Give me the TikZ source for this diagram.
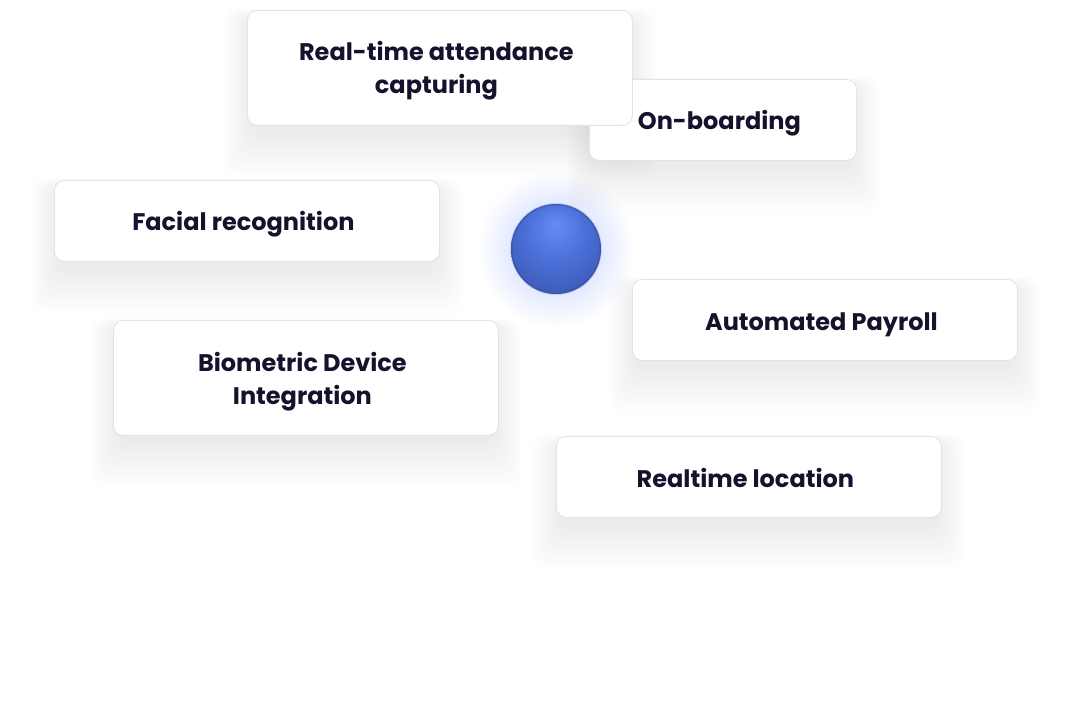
\documentclass[tikz,border=0pt]{standalone}
\usepackage{fontspec}
\setmainfont{Poppins}
\usetikzlibrary{calc,fadings}

\definecolor{ink}{RGB}{20,18,45}
\definecolor{cardline}{RGB}{226,226,232}
\definecolor{glowblue}{RGB}{130,160,255}
\definecolor{orbA}{RGB}{102,140,242}
\definecolor{orbB}{RGB}{76,112,216}
\definecolor{orbC}{RGB}{54,82,172}
\definecolor{orbD}{RGB}{48,66,136}

\pgfdeclarelayer{shadowlayer}
\pgfsetlayers{shadowlayer,main}

\tikzfading[name=glowfade, inner color=transparent!0, outer color=transparent!100]
\pgfdeclareradialshading{orb}{\pgfpoint{0bp}{14bp}}{%
  color(0bp)=(orbA); color(16bp)=(orbB); color(38bp)=(orbC); color(50bp)=(orbD)}

\tikzset{
  card/.style={draw=cardline, fill=white, rounded corners=10pt, line width=0.8pt,
    inner sep=0pt, anchor=north west},
  cardtext/.style={text=ink, inner sep=0pt, anchor=base,
    font=\bfseries\fontsize{24}{33}\selectfont},
  wide/.style={minimum width=385pt},
  short/.style={minimum height=81pt},
  tall/.style={minimum height=115pt},
}

% soft drop shadow under a card, painted on the shadow layer
\newcommand{\softshadow}[1]{%
  \begin{pgfonlayer}{shadowlayer}
    \foreach \i in {1,...,20}{
      \fill[black, opacity=0.0036, rounded corners=14pt]
        ($(#1.north west)+(-1.5*\i+6, 10+0.9*\i-1.5*\i)$)
        rectangle ($(#1.south east)+(1.5*\i-6, 4+0.9*\i+1.5*\i)$);
    }
    \foreach \i in {1,...,10}{
      \fill[black, opacity=0.0019, rounded corners=24pt]
        ($(#1.north west)+(-5*\i+24, 40+6*\i-5*\i)$)
        rectangle ($(#1.south east)+(5*\i-24, 30+6*\i+5*\i)$);
    }
  \end{pgfonlayer}}

\begin{document}
\begin{tikzpicture}[x=1pt, y=-1pt]
  \begin{pgfonlayer}{shadowlayer}
    \fill[white] (0,0) rectangle (1072,706);
  \end{pgfonlayer}
  \useasboundingbox (0,0) rectangle (1072,706);

  % glowing orb in the middle
  \coordinate (orbc) at (556,249);
  \fill[glowblue, opacity=0.5, path fading=glowfade] (orbc) circle (78pt);
  \shade[shading=orb] (orbc) circle (45pt);
  \foreach \w/\o in {3/0.1, 1.8/0.15, 0.8/0.22}
    \draw[orbD, opacity=\o, line width=\w pt] (orbc) circle (44.6pt);

  % feature cards; text baselines sit 51pt below each card's top edge
  \node[card, minimum width=267pt, short] (onboard) at (589,79) {};
  \node[cardtext] (onboardtxt) at ($(onboard.north)+(-3.5,51)$) {On-boarding};
  \softshadow{onboard}

  \node[card, wide, tall] (attend) at (247,10) {};
  \node[cardtext] (attendtxta) at ($(attend.north)+(-3.5,51)$) {Real-time attendance};
  \node[cardtext] (attendtxtb) at ($(attend.north)+(-3.5,84)$) {capturing};
  \softshadow{attend}

  \node[card, wide, short] (facial) at (54,180) {};
  \node[cardtext] (facialtxt) at ($(facial.north)+(-3.5,51)$) {Facial recognition};
  \softshadow{facial}

  \node[card, wide, tall] (biometric) at (113,320) {};
  \node[cardtext] (biometrictxta) at ($(biometric.north)+(-3.5,51)$) {Biometric Device};
  \node[cardtext] (biometrictxtb) at ($(biometric.north)+(-3.5,84)$) {Integration};
  \softshadow{biometric}

  \node[card, wide, short] (payroll) at (632,279) {};
  \node[cardtext] (payrolltxt) at ($(payroll.north)+(-3.5,51)$) {Automated Payroll};
  \softshadow{payroll}

  \node[card, wide, short] (location) at (556,436) {};
  \node[cardtext] (locationtxt) at ($(location.north)+(-3.5,51)$) {Realtime location};
  \softshadow{location}
\end{tikzpicture}
\end{document}
